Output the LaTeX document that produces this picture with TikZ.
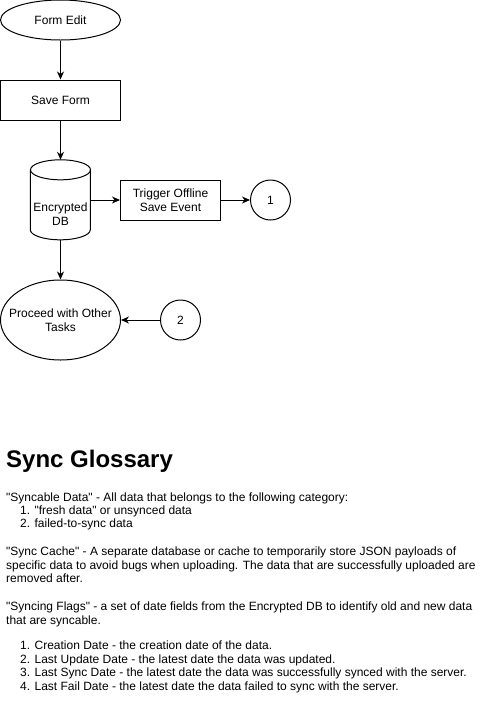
\documentclass[tikz,border=0pt]{standalone}
\usepackage{fontspec}
\setmainfont{Liberation Sans}[Ligatures=TeXOff]
\usetikzlibrary{positioning,shapes.geometric,arrows.meta}

\begin{document}
\begin{tikzpicture}[x=1pt,y=-1pt,
  every node/.style={font=\fontsize{12}{14.4}\selectfont},
  box/.style={draw,line width=1pt,minimum width=#1,minimum height=40,inner sep=0,align=center},
  oval/.style={ellipse,draw,line width=1pt,minimum width=120,minimum height=#1,inner sep=0},
  ring/.style={circle,draw,line width=1pt,minimum size=40,inner sep=0},
  arr/.style={-{Stealth[length=8pt,width=7pt,inset=2.5pt]},line width=1pt},
  txt/.style={anchor=base west,inner sep=0}]

  \useasboundingbox (0,0) rectangle (481,721);

  % Flow chart
  \node[oval=40,label={center:Form Edit}] (formedit) at (60.5,20) {};
  \node[box=120] (saveform) at (60.5,100) {Save Form};
  \node[inner sep=0,minimum width=60,minimum height=80] (db) at (60.5,200) {};
  \node[align=center] (dbtext) at (60.5,214) {Encrypted\\DB};
  \node[box=100] (trigger) at (170.5,200) {Trigger Offline\\Save Event};
  \node[ring] (one) at (270.5,200) {1};
  \node[oval=80,label={[align=center]center:Proceed with Other\\Tasks}] (proceed) at (60.5,320) {};
  \node[ring] (two) at (180.5,320) {2};

  % Encrypted DB as a cylinder
  \draw[line width=1pt] (db.north west) ++(0,10) -- ++(0,60)
    arc[start angle=180,end angle=0,x radius=30,y radius=10] -- ++(0,-60);
  \draw[line width=1pt] (db.north) ++(0,10) ellipse[x radius=30,y radius=10];

  % Connectors
  \draw[arr] (formedit) -- (saveform);
  \draw[arr] (saveform) -- (db.north);
  \draw[arr] (db.south) -- (proceed);
  \draw[arr] (db.east) -- (trigger);
  \draw[arr] (trigger) -- (one);
  \draw[arr] (two) -- (proceed);

  % Glossary
  \node[txt,font=\bfseries\fontsize{24}{28}\selectfont] (title) at (6,467.7) {Sync Glossary};

  \node[txt] (syncable) at (6,501.7) {"Syncable Data" - All data that belongs to the following category:};
  \node[txt] (fresh) at (20,514.3) {1. "fresh data" or unsynced data};
  \node[txt] (failed) at (20,527.3) {2. failed-to-sync data};

  \node[txt] (cache1) at (6,555.5) {"Sync Cache" - A separate database or cache to temporarily store JSON payloads of};
  \node[txt] (cache2) at (6,569) {specific data to avoid bugs when uploading. The data that are successfully uploaded are};
  \node[txt] (cache3) at (6,582.5) {removed after.};

  \node[txt] (flags1) at (6,610) {"Syncing Flags" - a set of date fields from the Encrypted DB to identify old and new data};
  \node[txt] (flags2) at (6,624) {that are syncable.};

  \foreach \yy/\entry [count=\i] in {
    649.5/{1. Creation Date - the creation date of the data.},
    663/{2. Last Update Date - the latest date the data was updated.},
    676.5/{3. Last Sync Date - the latest date the data was successfully synced with the server.},
    690/{4. Last Fail Date - the latest date the data failed to sync with the server.}}
    \node[txt] (flag\i) at (20,\yy) {\entry};

\end{tikzpicture}
\end{document}
